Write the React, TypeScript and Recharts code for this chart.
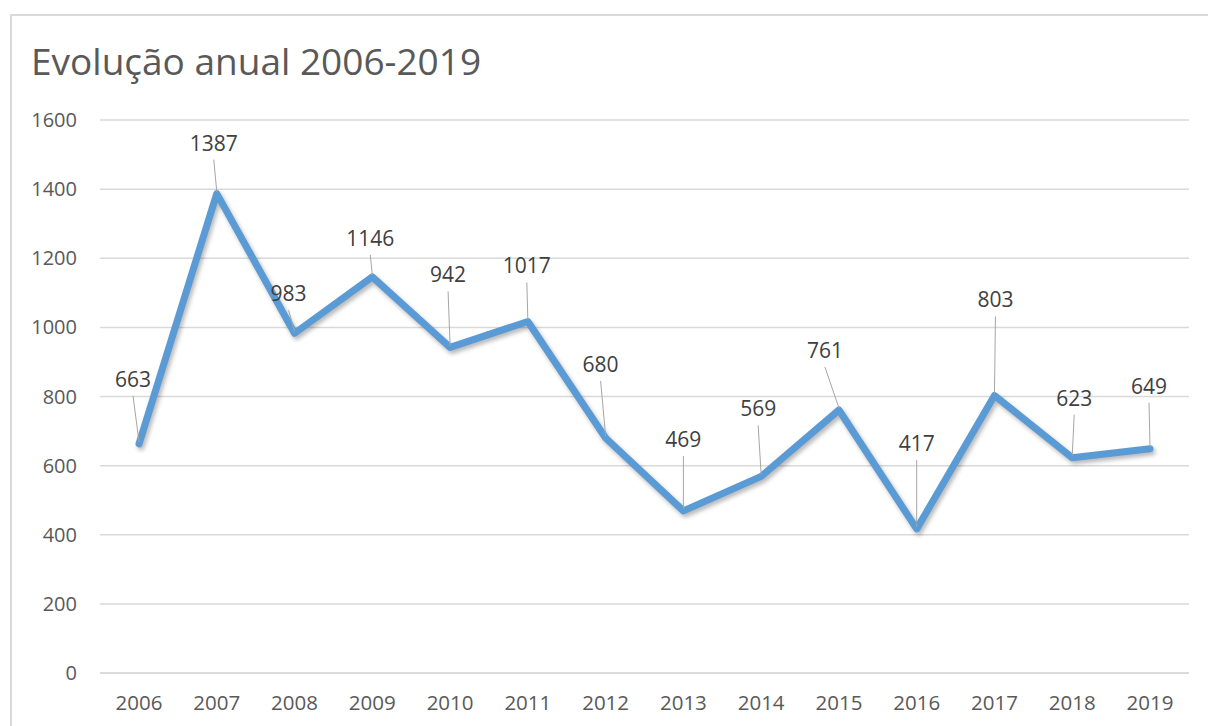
import React from 'react';
import { LineChart, Line, XAxis, YAxis, CartesianGrid } from 'recharts';

const YEARS = ['2006', '2007', '2008', '2009', '2010', '2011', '2012', '2013', '2014', '2015', '2016', '2017', '2018', '2019'];
const TOTALS = [663, 1387, 983, 1146, 942, 1017, 680, 469, 569, 761, 417, 803, 623, 649];
const Y_TICKS = [0, 200, 400, 600, 800, 1000, 1200, 1400, 1600];

// where Excel dropped each data label, relative to its point
const LABEL_DX = [-6, -3, -6, -2, -2, -1, -5, 0, -3, -14, 0, 1, 2, -1];
const LABEL_DY = [-65, -51, -40, -39, -73, -56, -74, -72, -68, -60, -86, -96, -60, -63];

const data = YEARS.map((year, i) => ({ year, total: TOTALS[i] }));

const FONT = '"Open Sans", "Noto Sans", sans-serif';

const CalloutLabel = (props: any) => {
  const { x, y, index, value } = props;
  const tx = x + LABEL_DX[index];
  const ty = y + LABEL_DY[index];
  return (
    <g>
      <line x1={tx} y1={ty + 17} x2={x} y2={y - 2} stroke="#a6a6a6" strokeWidth={1} />
      <text
        x={tx}
        y={ty}
        textAnchor="middle"
        dominantBaseline="central"
        fill="#404040"
        fontSize={21}
        fontFamily={FONT}
      >
        {value}
      </text>
    </g>
  );
};

const App: React.FC = () => {
  return (
    <div style={{ position: 'absolute', left: 0, top: 0, width: 1208, height: 726, background: '#fff', overflow: 'hidden' }}>
      <style>{`.recharts-line-curve { filter: drop-shadow(2px 3px 2px rgba(0,0,0,0.28)); }`}</style>
      {/* chart frame */}
      <div style={{ position: 'absolute', left: 10, top: 14, width: 1220, height: 740, border: '2px solid #d9d9d9', boxSizing: 'border-box' }} />
      <div style={{ position: 'absolute', left: 31, top: 35, fontFamily: FONT, fontSize: 37, color: '#595959', whiteSpace: 'nowrap' }}>
        Evolução anual 2006-2019
      </div>
      <div style={{ position: 'absolute', left: 0, top: 0 }}>
        <LineChart width={1208} height={726} data={data} margin={{ top: 120, right: 19, left: 0, bottom: 0 }}>
          <CartesianGrid vertical={false} stroke="#d9d9d9" strokeWidth={1.5} />
          <XAxis
            dataKey="year"
            height={53}
            padding={{ left: 39, right: 39 }}
            axisLine={{ stroke: '#d9d9d9', strokeWidth: 1.5 }}
            tickLine={false}
            tickSize={0}
            tickMargin={22}
            tick={{ fill: '#595959', fontSize: 20.5, fontFamily: FONT }}
            interval={0}
          />
          <YAxis
            width={100}
            domain={[0, 1600]}
            ticks={Y_TICKS}
            axisLine={false}
            tickLine={false}
            tickSize={0}
            tickMargin={23}
            tick={{ fill: '#595959', fontSize: 20, fontFamily: FONT }}
          />
          <Line
            type="linear"
            dataKey="total"
            stroke="#5b9bd5"
            strokeWidth={7}
            strokeLinejoin="round"
            strokeLinecap="round"
            dot={false}
            activeDot={false}
            label={<CalloutLabel />}
            isAnimationActive={false}
          />
        </LineChart>
      </div>
    </div>
  );
};

export default App;
